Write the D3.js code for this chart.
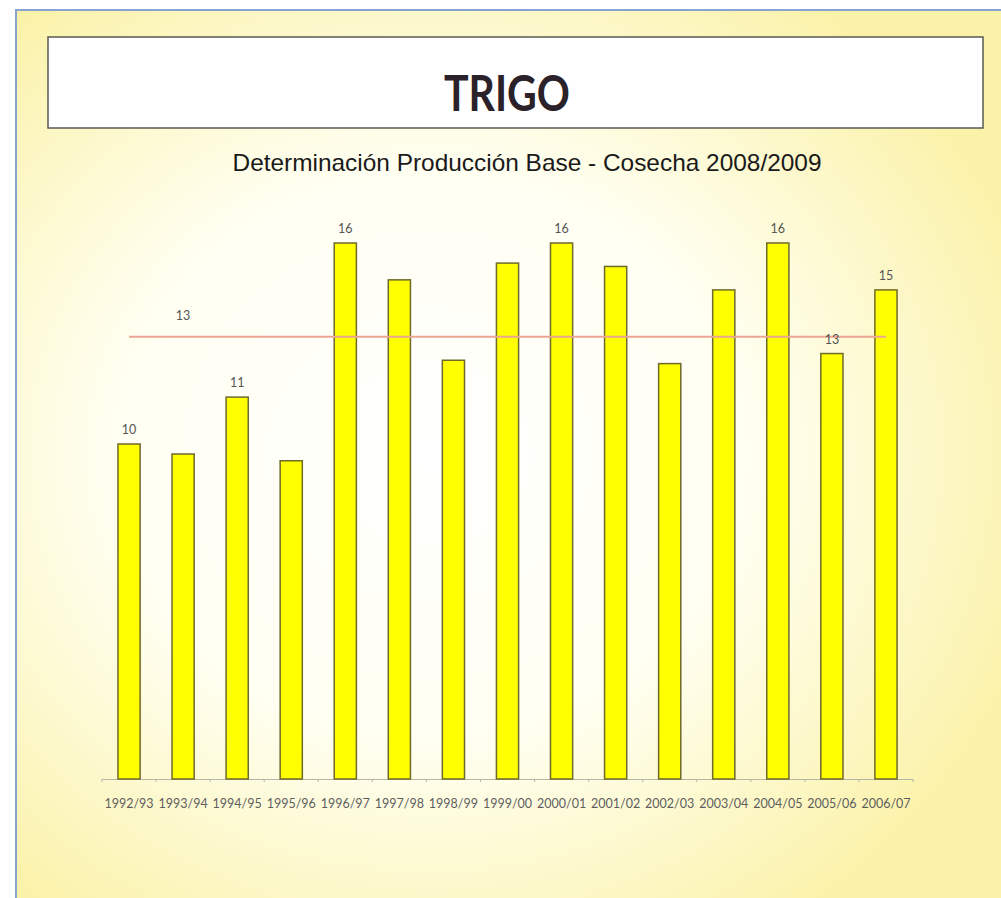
<!DOCTYPE html>
<html>
<head>
<meta charset="utf-8">
<script src="https://cdn.jsdelivr.net/npm/d3@7"></script>
<style>
  body { margin: 0; background: #ffffff; }
  svg { display: block; }
</style>
</head>
<body>
<div id="chart"></div>
<script>
const ancho = 1001;
const alto = 898;
const margen = { superior: 243, inferior: 119, izquierdo: 102, derecho: 88 };

// datos ---------------------------------------------
const campanias = ["1992/93", "1993/94", "1994/95", "1995/96", "1996/97", "1997/98", "1998/99",
  "1999/00", "2000/01", "2001/02", "2002/03", "2003/04", "2004/05", "2005/06", "2006/07"];
const rindes = [10.0, 9.7, 11.4, 9.5, 16.0, 14.9, 12.5, 15.4, 16.0, 15.3, 12.4, 14.6, 16.0, 12.7, 14.6];
const etiquetas = ["10", null, "11", null, "16", null, null, null, "16", null, null, null, "16", "13", "15"];
const promedio = 13.2;
const etiquetaPromedio = "13";
const maximoEje = 16;

const svg = d3.select("#chart").append("svg")
  .attr("width", ancho)
  .attr("height", alto);

// fondo con degradado
const defs = svg.append("defs");
const grad = defs.append("radialGradient")
  .attr("id", "fondo")
  .attr("cx", "42%").attr("cy", "50%").attr("r", "64%");
grad.append("stop").attr("offset", "0%").attr("stop-color", "#ffffff");
grad.append("stop").attr("offset", "50%").attr("stop-color", "#fffff2");
grad.append("stop").attr("offset", "100%").attr("stop-color", "#fbf2aa");

svg.append("rect")
  .attr("x", 16).attr("y", 10)
  .attr("width", ancho - 16).attr("height", alto - 10)
  .attr("fill", "url(#fondo)");

// marco azul
svg.append("path")
  .attr("d", `M16,${alto} L16,10 L${ancho},10`)
  .attr("fill", "none")
  .attr("stroke", "#86a3d4")
  .attr("stroke-width", 2);

// caja del titulo
svg.append("rect")
  .attr("x", 48).attr("y", 37)
  .attr("width", 935).attr("height", 91)
  .attr("fill", "#ffffff")
  .attr("stroke", "#5a5a52")
  .attr("stroke-width", 1.5);

svg.append("text")
  .attr("x", 507).attr("y", 111)
  .attr("text-anchor", "middle")
  .attr("font-family", "Lato, sans-serif")
  .attr("font-weight", "bold")
  .attr("font-size", 50)
  .attr("textLength", 126)
  .attr("lengthAdjust", "spacingAndGlyphs")
  .attr("fill", "#2b2128")
  .text("TRIGO");

svg.append("text")
  .attr("x", 527).attr("y", 171)
  .attr("text-anchor", "middle")
  .attr("font-family", "Liberation Sans, Arial, sans-serif")
  .attr("font-size", 24)
  .attr("textLength", 589)
  .attr("lengthAdjust", "spacingAndGlyphs")
  .attr("fill", "#1a1a1a")
  .text("Determinación Producción Base - Cosecha 2008/2009");

// escalas
const x = d3.scaleBand()
  .domain(campanias)
  .range([margen.izquierdo, ancho - margen.derecho])
  .paddingInner(0.59)
  .paddingOuter(0.295);

const y = d3.scaleLinear()
  .domain([0, maximoEje])
  .range([alto - margen.inferior, margen.superior]);

// eje x
const grupoX = svg.append("g")
  .attr("transform", `translate(0, ${alto - margen.inferior})`);
const ejeX = d3.axisBottom(x).tickSize(0).tickPadding(20);
grupoX.call(ejeX);
grupoX.select(".domain").attr("stroke", "#b5b5a8").attr("stroke-width", 1.2);
grupoX.selectAll("text")
  .attr("font-family", "Lato, sans-serif")
  .attr("font-size", 12.5)
  .attr("fill", "#5e5e5e");

// marcas entre categorias
const bordes = campanias.map((c) => x(c) - x.step() * x.paddingInner() / 2)
  .concat([x(campanias[campanias.length - 1]) + x.bandwidth() + x.step() * x.paddingInner() / 2]);
grupoX.selectAll(".marca").data(bordes).enter().append("line")
  .attr("class", "marca")
  .attr("x1", (d) => d).attr("x2", (d) => d)
  .attr("y1", 0).attr("y2", 3)
  .attr("stroke", "#b5b5a8");

// barras
const datos = campanias.map((c, i) => ({ campania: c, rinde: rindes[i], etiqueta: etiquetas[i] }));
svg.append("g").selectAll("rect").data(datos).enter().append("rect")
  .attr("x", (d) => x(d.campania))
  .attr("y", (d) => y(d.rinde))
  .attr("width", x.bandwidth())
  .attr("height", (d) => y(0) - y(d.rinde))
  .attr("fill", "#ffff00")
  .attr("stroke", "#6e6a2a")
  .attr("stroke-width", 1.5);

// linea de produccion base
const linea = d3.line().x((d) => x(d) + x.bandwidth() / 2).y(() => y(promedio));
svg.append("path")
  .datum([campanias[0], campanias[campanias.length - 1]])
  .attr("d", linea)
  .attr("fill", "none")
  .attr("stroke", "#eba593")
  .attr("stroke-width", 2);

svg.append("text")
  .attr("x", x(campanias[1]) + x.bandwidth() / 2)
  .attr("y", y(promedio) - 17)
  .attr("text-anchor", "middle")
  .attr("font-family", "Lato, sans-serif")
  .attr("font-size", 12.5)
  .attr("fill", "#555555")
  .text(etiquetaPromedio);

// etiquetas de valores
svg.append("g").selectAll("text").data(datos.filter((d) => d.etiqueta)).enter().append("text")
  .attr("x", (d) => x(d.campania) + x.bandwidth() / 2)
  .attr("y", (d) => y(d.rinde) - 10)
  .attr("text-anchor", "middle")
  .attr("font-family", "Lato, sans-serif")
  .attr("font-size", 12.5)
  .attr("fill", "#555555")
  .text((d) => d.etiqueta);
</script>
</body>
</html>
